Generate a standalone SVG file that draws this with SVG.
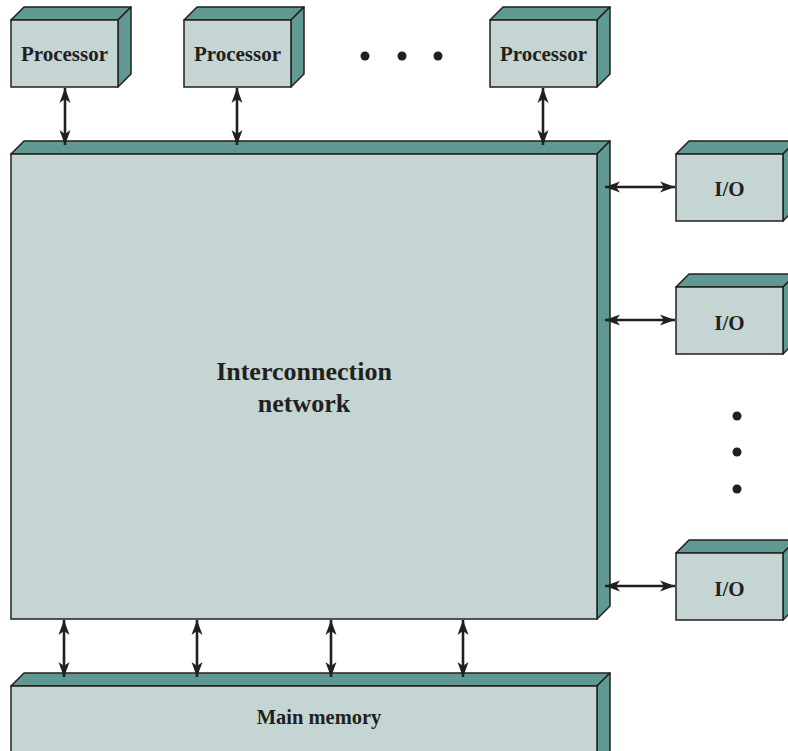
<svg xmlns="http://www.w3.org/2000/svg" width="788" height="751" viewBox="0 0 788 751">
<style>
.front{fill:#c4d5d3;stroke:#231f20;stroke-width:1.5}
.dark{fill:#5f9992;stroke:#231f20;stroke-width:1.5;stroke-linejoin:round}
.lbl{font-family:"Liberation Serif","Times New Roman",serif;font-weight:bold;fill:#231f20;text-anchor:middle}
.conn{stroke:#231f20;stroke-width:2.6;fill:none;marker-start:url(#ah);marker-end:url(#ah)}
.dot{fill:#231f20}
</style>
<defs>
<marker id="ah" viewBox="0 0 15 12" refX="15" refY="6" markerWidth="15" markerHeight="12" markerUnits="userSpaceOnUse" orient="auto-start-reverse">
<path d="M0,0.5 L15,6 L0,11.5 L4,6 Z" fill="#231f20"/>
</marker>
</defs>
<rect width="788" height="751" fill="#ffffff"/>
<g id="processor1">
<polygon class="dark" points="11,20 24,7 131,7 118,20"/>
<polygon class="dark" points="118,20 131,7 131,74 118,87"/>
<rect class="front" x="11" y="20" width="107" height="67"/>
<text class="lbl" x="64.5" y="61" font-size="21">Processor</text>
</g>
<g id="processor2">
<polygon class="dark" points="184,20 197,7 304,7 291,20"/>
<polygon class="dark" points="291,20 304,7 304,74 291,87"/>
<rect class="front" x="184" y="20" width="107" height="67"/>
<text class="lbl" x="237.5" y="61" font-size="21">Processor</text>
</g>
<g id="processor3">
<polygon class="dark" points="490,20 503,7 610,7 597,20"/>
<polygon class="dark" points="597,20 610,7 610,74 597,87"/>
<rect class="front" x="490" y="20" width="107" height="67"/>
<text class="lbl" x="543.5" y="61" font-size="21">Processor</text>
</g>
<g id="proc-dots">
<circle class="dot" cx="365" cy="56" r="4.5"/>
<circle class="dot" cx="402" cy="56" r="4.5"/>
<circle class="dot" cx="438" cy="56" r="4.5"/>
</g>
<g id="interconnection">
<polygon class="dark" points="11,154 24,141 610,141 597,154"/>
<polygon class="dark" points="597,154 610,141 610,606 597,619"/>
<rect class="front" x="11" y="154" width="586" height="465"/>
<text class="lbl" x="304" y="380" font-size="26">Interconnection</text>
<text class="lbl" x="304" y="412" font-size="26">network</text>
</g>
<g id="io1">
<polygon class="dark" points="676,154 689,141 796,141 783,154"/>
<polygon class="dark" points="783,154 796,141 796,208 783,221"/>
<rect class="front" x="676" y="154" width="107" height="67"/>
<text class="lbl" x="729.5" y="196" font-size="21">I/O</text>
</g>
<g id="io2">
<polygon class="dark" points="676,287 689,274 796,274 783,287"/>
<polygon class="dark" points="783,287 796,274 796,341 783,354"/>
<rect class="front" x="676" y="287" width="107" height="67"/>
<text class="lbl" x="729.5" y="330" font-size="21">I/O</text>
</g>
<g id="io-dots">
<circle class="dot" cx="737" cy="416" r="4.5"/>
<circle class="dot" cx="737" cy="452" r="4.5"/>
<circle class="dot" cx="737" cy="489" r="4.5"/>
</g>
<g id="io3">
<polygon class="dark" points="676,553 689,540 796,540 783,553"/>
<polygon class="dark" points="783,553 796,540 796,607 783,620"/>
<rect class="front" x="676" y="553" width="107" height="67"/>
<text class="lbl" x="729.5" y="596" font-size="21">I/O</text>
</g>
<g id="main-memory">
<polygon class="dark" points="11,686 24,673 610,673 597,686"/>
<polygon class="dark" points="597,686 610,673 610,753 597,766"/>
<rect class="front" x="11" y="686" width="586" height="80"/>
<text class="lbl" x="319" y="724" font-size="20.5">Main memory</text>
</g>
<g id="connectors">
<line class="conn" x1="65" y1="88" x2="65" y2="145"/>
<line class="conn" x1="237" y1="88" x2="237" y2="145"/>
<line class="conn" x1="543" y1="88" x2="543" y2="145"/>
<line class="conn" x1="605" y1="187" x2="675" y2="187"/>
<line class="conn" x1="605" y1="320" x2="675" y2="320"/>
<line class="conn" x1="605" y1="586" x2="675" y2="586"/>
<line class="conn" x1="64" y1="620" x2="64" y2="677"/>
<line class="conn" x1="197" y1="620" x2="197" y2="677"/>
<line class="conn" x1="331" y1="620" x2="331" y2="677"/>
<line class="conn" x1="463" y1="620" x2="463" y2="677"/>
</g>
</svg>
